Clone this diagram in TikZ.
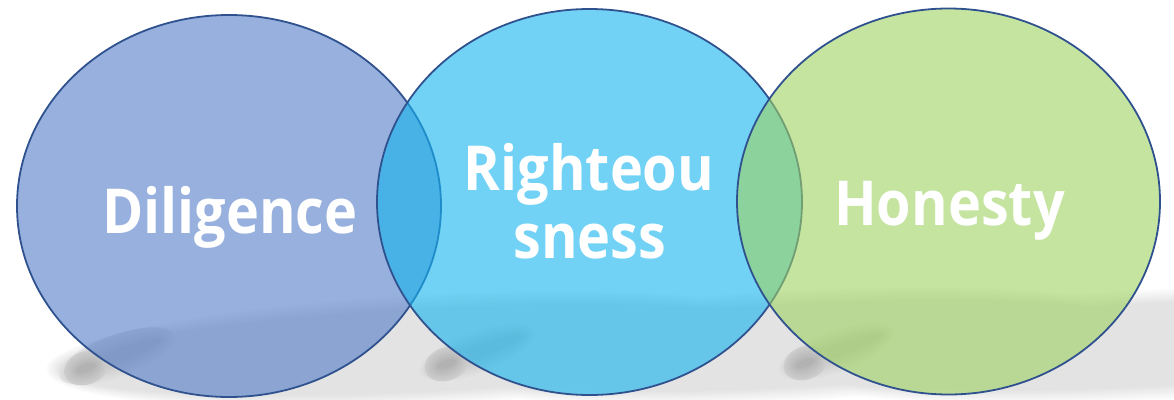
\documentclass[tikz,border=0pt]{standalone}
\usepackage{fontspec}
\setmainfont[FakeStretch=0.9]{Open Sans}
\definecolor{cA}{RGB}{82,123,200}
\definecolor{cB}{RGB}{20,180,238}
\definecolor{cC}{RGB}{157,210,97}
\definecolor{cLine}{RGB}{47,82,143}
\begin{document}
\begin{tikzpicture}[x=1pt,y=-1pt,
  venn/.style={draw=cLine, line width=1.8pt, fill opacity=0.6},
  lbl/.style={text=white, font=\fontsize{62}{68}\selectfont\bfseries, inner sep=0pt, anchor=base}]
\useasboundingbox (0,0) rectangle (1174,399);
% light shadows, level by level
\foreach \k in {0,...,6} {
  \pgfmathsetmacro\g{11*(\k+1)/7}
  \pgfmathsetmacro\ex{(6-\k)*2.2}
  \foreach \cx/\dy in {229/4, 589.5/0, 948.5/-1} {
    \fill[black!\g, rotate around={3:({\cx+200},{346+\dy})}]
      ({\cx+200},{346+\dy}) ellipse [x radius={370+\ex}, y radius={42+\ex}];
  }
}
% darker contact blobs
\foreach \k in {0,...,6} {
  \pgfmathsetmacro\g{11+11*(\k+1)/7}
  \pgfmathsetmacro\ex{(6-\k)*2.5}
  \foreach \cx/\dy in {229/4, 589.5/0, 948.5/-1} {
    \fill[black!\g, rotate around={20:({\cx-112},{352+\dy})}]
      ({\cx-112},{352+\dy}) ellipse [x radius={46+\ex}, y radius={6+\ex}];
  }
}
\foreach \k in {0,...,5} {
  \pgfmathsetmacro\g{18+12*(\k+1)/6}
  \pgfmathsetmacro\ex{(5-\k)*2.5}
  \foreach \cx/\dy in {229/4, 589.5/0, 948.5/-1} {
    \fill[black!\g, rotate around={20:({\cx-143},{364+\dy})}]
      ({\cx-143},{364+\dy}) ellipse [x radius={10+\ex}, y radius={4+\ex}];
  }
}
% circles
\path[venn, fill=cA] (229,206) ellipse [x radius=212, y radius=191];
\path[venn, fill=cB] (589.5,202) ellipse [x radius=212.5, y radius=193];
\path[venn, fill=cC] (948.5,201.5) ellipse [x radius=211.5, y radius=193];
% labels
\node[lbl] (d) at (230,233) {Diligence};
\node[lbl] (r1) at (589,190) {Righteou};
\node[lbl] (r2) at (590,258) {sness};
\node[lbl] (h) at (949.5,225) {Honesty};
\end{tikzpicture}
\end{document}
